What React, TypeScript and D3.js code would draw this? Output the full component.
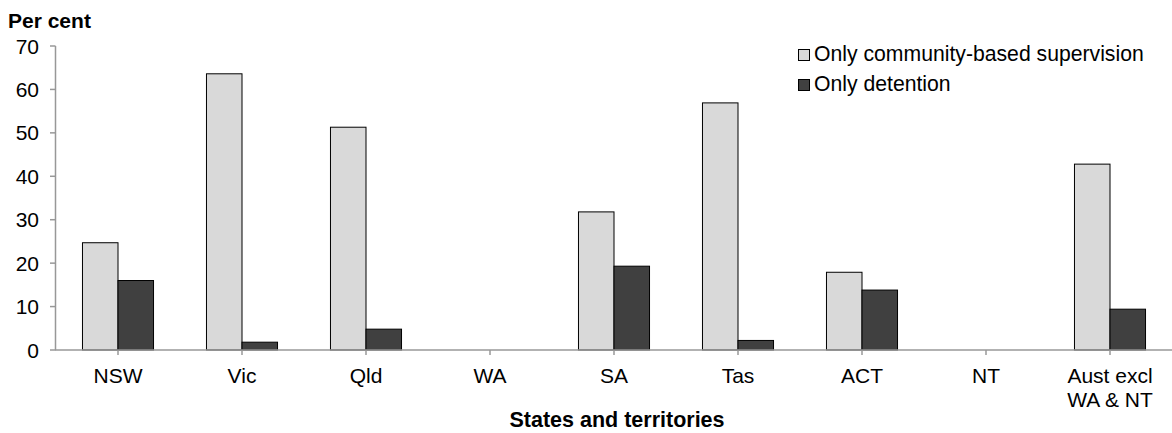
import React from "react";
import * as d3 from "d3";

const categories = ["NSW", "Vic", "Qld", "WA", "SA", "Tas", "ACT", "NT", "Aust excl|WA & NT"];
const seriesNames = ["Only community-based supervision", "Only detention"];
const community: (number | null)[] = [24.7, 63.6, 51.3, null, 31.8, 56.9, 17.9, null, 42.8];
const detention: (number | null)[] = [16.0, 1.8, 4.8, null, 19.3, 2.2, 13.8, null, 9.4];
const yTicks = [0, 10, 20, 30, 40, 50, 60, 70];
const colors = ["#d9d9d9", "#404040"];

const W = 1172;
const H = 433;
const FONT = "'Liberation Sans', Arial, sans-serif";

export default function App() {
  const x = d3.scaleBand<string>().domain(categories).range([56, 1172]).paddingInner(0.427).paddingOuter(0.2135);
  const xs = d3.scaleBand<string>().domain(seriesNames).range([0, x.bandwidth()]);
  const y = d3.scaleLinear().domain([0, 70]).range([350, 46]);
  const series = [community, detention];
  const axisColor = "#989898";

  return (
    <svg width={W} height={H} style={{ position: "absolute", left: 0, top: 0 }} fontFamily={FONT}>
      <rect x={0} y={0} width={W} height={H} fill="#fff" />
      <text x={8} y={28} fontSize={21} fontWeight="bold" fill="#000">Per cent</text>
      {/* y axis */}
      <line x1={55.5} x2={55.5} y1={y(70)} y2={y(0)} stroke={axisColor} strokeWidth={1.5} />
      {yTicks.map((t) => (
        <g key={t}>
          <line x1={50} x2={55.5} y1={y(t)} y2={y(t)} stroke={axisColor} strokeWidth={1.5} />
          <text x={39} y={y(t) + 7.5} textAnchor="end" fontSize={21} fill="#000">{t}</text>
        </g>
      ))}
      {/* bars */}
      {categories.map((c, i) => (
        <g key={c} transform={`translate(${x(c)},0)`}>
          {series.map((s, j) => {
            const v = s[i];
            if (v == null) return null;
            return (
              <rect
                key={j}
                x={xs(seriesNames[j])}
                y={y(v)}
                width={xs.bandwidth()}
                height={y(0) - y(v)}
                fill={colors[j]}
                stroke="#000"
                strokeWidth={1}
              />
            );
          })}
        </g>
      ))}
      {/* x axis */}
      <line x1={55} x2={1172} y1={y(0)} y2={y(0)} stroke={axisColor} strokeWidth={1.5} />
      {categories.map((c) => {
        const cx = (x(c) as number) + x.bandwidth() / 2;
        const lines = c.split("|");
        return (
          <g key={c}>
            <line x1={cx} x2={cx} y1={y(0)} y2={y(0) + 5} stroke={axisColor} strokeWidth={1.5} />
            {lines.map((l, k) => (
              <text key={k} x={cx} y={383 + k * 24} textAnchor="middle" fontSize={21} fill="#000">{l}</text>
            ))}
          </g>
        );
      })}
      <text x={617} y={427} textAnchor="middle" fontSize={21.5} fontWeight="bold" fill="#000">States and territories</text>
      {/* legend */}
      {seriesNames.map((n, j) => (
        <g key={n}>
          <rect x={798.5} y={49.5 + j * 30} width={11} height={11} fill={colors[j]} stroke="#000" strokeWidth={1} />
          <text x={814} y={61 + j * 30} fontSize={21.2} fill="#000">{n}</text>
        </g>
      ))}
    </svg>
  );
}
